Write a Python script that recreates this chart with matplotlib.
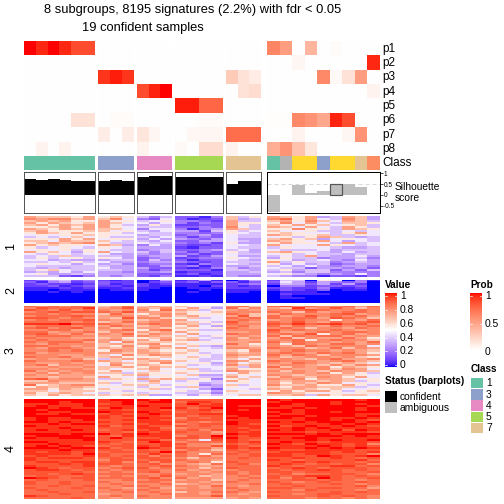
import numpy as np
import matplotlib
matplotlib.use("Agg")
import matplotlib.pyplot as plt
from matplotlib.colors import ListedColormap
from matplotlib.patches import Rectangle

plt.rcParams['font.family'] = ['Liberation Sans', 'DejaVu Sans']

title_1 = "8 subgroups, 8195 signatures (2.2%) with fdr < 0.05"
title_2 = "19 confident samples"
group_sizes = [6, 3, 3, 4, 3, 9]
group_x = [(24, 95), (98, 134), (137, 172), (175, 223), (226, 261), (267, 380)]

p_labels = ["p1", "p2", "p3", "p4", "p5", "p6", "p7", "p8"]
p1 = [1, .95, 1, .95, .85, .85] + [0]*13 + [.62, .5, 0, .38, 0, .02, 0, 0, 0]
p2 = [0]*19 + [0, 0, .05, 0, 0, 0, 0, 0, .95]
p3 = [0]*6 + [.92, .97, .92] + [0]*7 + [.27, .15, .1] + [0, 0, 0, 0, .6, .03, .15, .5, 0]
p4 = [0]*9 + [.85, .96, 1] + [0]*4 + [0, .15, .18] + [0, 0, 0, 0, 0, 0, 0, 0, .06]
p5 = [0]*12 + [.97, .97, .75, .75] + [0]*3 + [0]*9
p6 = [0, 0, 0, 0, .15, .15, 0, .02, .02] + [0]*3 + [0, 0, .02, .02] + [0]*3 + [.01, .01, .6, .55, .45, .96, .85, 0, 0]
p7 = [0]*6 + [.09, 0, .09, .13, .05, 0, 0, .04, .05, .05, .72, .72, .72] + [0, 0, .06, 0, 0, 0, .05, .55, 0]
p8 = [0, .06, 0, .06, 0, 0, 0, 0, 0, .06, 0, 0, .03, 0, .18, .18, .06, 0, 0] + [.42, .55, .32, .13, 0, 0, 0, 0, 0]

class_colors = ["#66C2A5"]*6 + ["#8DA0CB"]*3 + ["#E78AC3"]*3 + ["#A6D854"]*4 + ["#E5C494"]*3 + \
    ["#66C2A5", "#B3B3B3", "#FFD92F", "#FFD92F", "#8DA0CB", "#FFD92F", "#FFD92F", "#E5C494", "#FC8D62"]

silhouette = [.73, .68, .73, .68, .62, .62, .62, .68, .62, .82, .86, .86, .82, .82, .82, .82, .5, .62, .62,
              -.76, 0, .45, .08, .18, .52, .5, .36, 0]
sil_confident = [True]*19 + [False]*9

legend_class_labels = ["1", "3", "4", "5", "7"]
legend_class_colors = ["#66C2A5", "#8DA0CB", "#E78AC3", "#A6D854", "#E5C494"]
value_ticks = [0, .2, .4, .6, .8, 1]
prob_ticks = [0, .5, 1]

# heatmap rows, one hex digit per sample, blocks split by subgroup;
# digit_levels gives the estimated value each digit stands for
digit_levels = {"0": 0, "1": .04, "2": .09, "3": .15, "4": .22, "5": .30, "6": .37, "7": .45,
                "8": .56, "9": .66, "a": .74, "b": .80, "c": .86, "d": .91, "e": .96, "f": 1}
rows_c1 = [
 "a9998a 898 646 3314 968 a98a56a95",
 "babb9a 9b7 437 3123 956 bc8a76b95",
 "9a9a88 a88 678 4432 a66 9a8b97a96",
 "a8a989 a97 757 4243 a88 8b7a76998",
 "9a8a9a a86 586 2233 a86 98a897896",
 "889a8a a87 666 3343 b76 a97a76a86",
 "a98a9a 997 477 4145 a96 88b886a98",
 "9a8889 978 657 5526 867 977866767",
 "8a98a8 886 766 4434 876 8987768a7",
 "787889 877 566 3453 766 a98896687",
 "676797 866 657 4243 766 7868a9656",
 "888a8a 788 575 5435 755 9a8957876",
 "997a99 976 657 3355 765 a987a7576",
 "89a9ab 866 766 4342 855 8a8876a67",
 "a89887 a95 475 3223 776 a777a8767",
 "867876 876 555 2133 766 687776556",
 "787868 766 456 3345 675 766675666",
 "a89758 a76 646 4243 865 9a8765756",
 "768767 755 545 3423 766 786766566",
 "676966 665 455 5235 755 676a65575",
 "686786 875 345 2344 876 586645564",
 "775655 566 364 3133 765 875675475",
 "667686 755 455 4323 666 a68664565",
 "787757 564 344 2143 765 857563455",
 "766666 655 335 3413 556 675754554",
 "656566 755 533 2124 645 766355453",
 "689766 665 424 3331 665 685663536",
 "565757 554 445 1222 556 564664444",
 "785565 555 333 2312 555 786545474",
 "666324 545 324 1121 544 654413324",
]
rows_c2 = [
 "235634 212 015 1251 025 266087041",
 "314523 322 023 2313 313 375254340",
 "232212 312 212 1111 234 265352520",
 "223123 221 211 1102 212 044233230",
 "111212 112 110 0111 222 232241120",
 "110111 011 100 0010 111 132130110",
 "001010 000 000 0100 110 011100000",
 "000000 000 000 0000 000 021110000",
 "000000 000 000 0000 000 010000000",
 "000000 000 000 0000 000 011000000",
 "000000 000 000 0000 000 000000000",
 "000000 000 000 0000 000 000000000",
]
rows_c3 = [
 "cbcbcb 9ac 9a9 9776 bc9 cdbcbbcac",
 "bdccce abd a9b 8a85 c9b a9eabdb9b",
 "dcbdbc bab b8c a968 aba bbcdcbbcb",
 "bcdcdd cbd aaa 9879 bbb cb9cabccb",
 "ccbcbb 9ca 8ab a888 cb9 acbbbcdab",
 "bcccdc abb a9b 9a87 ad9 cabdbcbca",
 "ddcbcb a9d bb9 8967 cbc cbccadcb9",
 "bcbccd bab 9ab a777 bcb abcbb8bac",
 "ccccbc 9ac abb 9986 dba cbdbacbcd",
 "eeefdd cba bcb a968 cbb dcecdecdb",
 "bcccbc acb 9ab 8a75 bca cacbacbbc",
 "cdbcdb b9a aa9 9878 cba bcb9bbacb",
 "bbccab abc 8bc 8966 bbb dbcbbcbab",
 "ccabbc 9ba a9a a877 aab caabcbccb",
 "cdbaca bac 9ba 7a77 cbb bcbd8bcab",
 "bcccbb aab ba9 9768 aba c9cbccaba",
 "cbbbaa 9a8 89a 8976 b9b ac9baaca8",
 "bcbbbc ab9 a8b 9a67 baa bbc8bcbb9",
 "cbccca a7b 999 8787 aab cacbbabac",
 "bacbbb 9a9 ab8 9878 ca8 b8cbaccab",
 "ccbbab 98b 8aa 7965 aa9 ba9cbbbb7",
 "baccba a9a 9b9 a776 bba cbb9ac9ba",
 "bbcbcb 8ba a98 8977 98b abcbbaba9",
 "cabbbb aa9 aa9 9867 a9a bcbacbca8",
 "bbbaab 97b 9ba 8786 baa cacb9bbba",
 "cbbcaa 9a8 889 7976 a98 b9abbab98",
 "abaab9 69a a97 8866 97a aba9bcaab",
 "cbbbcb a97 9aa 9767 ba8 cbbbabca9",
 "baabab 8a9 98b 7885 a79 bacba9a97",
 "bc9bba 7b8 a98 8676 b9a abba9b9ba",
 "aabaab 99a 8a9 9777 96a c9bab8a98",
 "bbabba 978 9a7 7967 a88 abaab9ba7",
 "cababb 8a7 798 8866 ba9 b9ba9baa9",
 "ab9bab 996 987 9787 7a8 aabab8a86",
 "babaaa 789 a88 7955 987 ba9aaa987",
 "aa9aa9 a87 678 8766 a79 9ba9ba8a7",
 "cdabba 698 a9a 9684 897 bab8aa978",
 "99baaa 887 6a7 6876 a87 a9aa9a968",
 "aaa999 968 897 7856 787 a8a9ba787",
 "c89abb 879 976 8745 967 b99a88a86",
 "8a9aa9 787 688 6965 878 98aa99967",
 "aa8a98 978 896 7753 776 a9a989778",
 "997999 886 777 8675 987 8a8aa8689",
 "a89a97 678 687 6664 877 ba9878788",
 "98a899 989 955 7586 799 99a6a8997",
]
rows_c4 = [
 "ffffff eff fef dddd fff fefffffef",
 "fffeff eef eff ceed fff effffefff",
 "eefeef def eee dfde fff ffeffefef",
 "efeeef eee fee ddee fee feefffffe",
 "ffefee dfe eef ecdf fff eefefffef",
 "feffff eed eed dded fef ffeffffef",
 "ffeeff fee fee cddc fff efeffefff",
 "feefee ded efe ddee fff feeffffee",
 "ffffff ede eed dcdd eff effefffef",
 "efeeff edd fee bdcd fef ffeffeefe",
 "efeeef dde eed cddd eee eeeffefed",
 "ffefee edd eee dcbc fee fefefffef",
 "eefeff dde dee bcdd fed eeeeefefe",
 "feeeee ecd edd dcdc eee fdefeefed",
 "eeefee ddd eec bccc ede eefefeeee",
 "efeefe cde ded cdbd eed fefeefdfe",
 "eeeeee ddc ede dcca ede eeedeeeed",
 "fffeff fde fee cccb fee fffefefff",
 "effffe dce eee bdcf ede eeefffefe",
 "feefff dfd dde ddce fdd feffeeeee",
 "eeeeef ddd eec cb7d edc eeefefeef",
 "ffeeee edc dfe bccc ede efeedeeed",
 "eefeee dcd dde dbba dcd fedfeedeb",
 "efefed cdd ede cbbd edc eeeefeded",
 "fffeff ecd fed dcca ede feefefefe",
 "eeefee ddc dcd bcb9 dcd eddeeeedd",
 "edeede cdd ddf dbbb cdc deeeedede",
 "eeeedf dcc cec cb8c dcd eedeedddb",
 "deddde dcd dbd cbca ccd eeddfedef",
 "edeeed cdc ddc b9bb cdc ddeddedcd",
 "eddddd bdd cdd cbba ccc edcddddec",
 "deedee cdb dbd bcb8 dcc ddededdcd",
 "dddede ddc cdb ba9c cdb dedcdcddb",
 "edddde cbc ccd cbaa ccc edcddeecd",
 "fedcdd bcd dbc bb9b dcc cdedcdddc",
 "deedcd cbc ccb caba bcc dcddedcdc",
 "dddddc bcb cdb bbab cbc ddcdddccd",
 "ddcded ccc bbc abba cbc cdbccddcb",
 "cddccd bcb cbd bb9a bcb dcdeedcdc",
 "fedcdd ccc cdb caba bbc dbdcfdccd",
 "cdcccd bbc bcc abb9 bcb ccddcdcbc",
 "dccdcc cbb ccb bbab cbb dcbcdccdc",
 "dccdcc bcb bbc 9aba bbc cdcccdcbc",
 "ccdccd bbc cbb bbac bab ccdccccdb",
 "dcccdc cba bca abab cbb ddccddcca",
 "cdcccc bcb cbb bbbb bcb ccbdcccbc",
 "ccdccd bbc bcb 9bac cba dccccdcdc",
 "cccdcc abb bbc bbab bab ccbcddccc",
 "edcccc bcb cbb bbbd bbb dcccdcdcb",
 "ccccdc bab bbb aaaa aba cccbccbcb",
]
cluster_rows = [rows_c1, rows_c2, rows_c3, rows_c4]
cluster_y = [(216, 277), (280, 303), (306, 396), (399, 498.5)]
cluster_labels = ["1", "2", "3", "4"]

W, H = 504, 504
fig = plt.figure(figsize=(7, 7), dpi=72, facecolor="white")

def pax(x0, y0, x1, y1, **kw):
    ax = fig.add_axes([x0 / W, 1 - y1 / H, (x1 - x0) / W, (y1 - y0) / H], **kw)
    return ax

def ftext(x, y, s, **kw):
    kw.setdefault("va", "center")
    kw.setdefault("ha", "left")
    fig.text(x / W, 1 - y / H, s, **kw)

# colour ramps interpolated in CIELAB, as the reference's palette looks
M = np.array([[.4124564, .3575761, .1804375], [.2126729, .7151522, .0721750], [.0193339, .1191920, .9503041]])
WHT = M.sum(axis=1)

def rgb2lab(rgb):
    rgb = np.asarray(rgb, float)
    lin = np.where(rgb > .04045, ((rgb + .055) / 1.055) ** 2.4, rgb / 12.92)
    t = M @ lin / WHT
    f = np.where(t > .008856, np.cbrt(t), 7.787 * t + 16 / 116)
    return np.array([116 * f[1] - 16, 500 * (f[0] - f[1]), 200 * (f[1] - f[2])])

def lab2rgb(lab):
    fy = (lab[0] + 16) / 116
    f = np.array([fy + lab[1] / 500, fy, fy - lab[2] / 200])
    t = np.where(f ** 3 > .008856, f ** 3, (f - 16 / 116) / 7.787)
    lin = np.clip(np.linalg.solve(M, t * WHT), 0, 1)
    rgb = np.where(lin > .0031308, 1.055 * lin ** (1 / 2.4) - .055, 12.92 * lin)
    return np.clip(rgb, 0, 1)

def lab_ramp(name, c0, c1, c2=None):
    anchors = [c0, c1] if c2 is None else [c0, c1, c2]
    labs = [rgb2lab(matplotlib.colors.to_rgb(c)) for c in anchors]
    out = []
    for u in np.linspace(0, 1, 256):
        s = u * (len(labs) - 1)
        i = min(int(s), len(labs) - 2)
        out.append(lab2rgb(labs[i] + (labs[i + 1] - labs[i]) * (s - i)))
    return ListedColormap(out, name=name)

value_cmap = lab_ramp("val", "#0000ff", "#ffffff", "#ff0000")
prob_cmap = lab_ramp("prob", "#ffffff", "#ff0000")

def bare(ax):
    ax.set_xticks([]); ax.set_yticks([])
    for s in ax.spines.values():
        s.set_visible(False)

ftext(193, 10, title_1, ha="center", fontsize=12.9)
ftext(143, 28.5, title_2, ha="center", fontsize=12.9)

probs = np.array([p1, p2, p3, p4, p5, p6, p7, p8])
starts = np.cumsum([0] + group_sizes)

for g, (x0, x1) in enumerate(group_x):
    a, b = starts[g], starts[g + 1]
    ax = pax(x0, 41, x1, 155.7)
    ax.imshow(probs[:, a:b], cmap=prob_cmap, vmin=0, vmax=1, aspect="auto", interpolation="nearest")
    bare(ax)
    ax = pax(x0, 156, x1, 170.5)
    cols = class_colors[a:b]
    ax.imshow(np.arange(b - a)[None, :], cmap=ListedColormap(cols), aspect="auto", interpolation="nearest")
    bare(ax)
    ax = pax(x0, 171.5, x1, 213)
    vals = silhouette[a:b]
    conf = sil_confident[a:b]
    ax.bar(np.arange(b - a), vals, width=1, color=["black" if c else "#BEBEBE" for c in conf])
    ax.set_xlim(-.5, b - a - .5)
    ax.set_ylim(-.82, 1.07)
    ax.set_xticks([]); ax.set_yticks([])
    for s in ax.spines.values():
        s.set_linewidth(1)
        s.set_color("#555555" if g < 5 else "black")
    if g == 5:
        ax.axhline(.5, color="#D8D8D8", lw=1, ls=(0, (4, 3)), zorder=0.5)
        ax.add_patch(Rectangle((4.5, 0), 1, .52, fill=False, ec="#555555", lw=1.2))
        ax.set_yticks([-.5, 0, .5, 1])
        ax.set_yticklabels(["-0.5", "0", "0.5", "1"], fontsize=6.5)
        ax.yaxis.tick_right()
        ax.tick_params(axis="y", length=3, width=.7, pad=1)
    for rows, (y0, y1) in zip(cluster_rows, cluster_y):
        blocks = [r.split()[g] for r in rows]
        m = np.array([[digit_levels[c] for c in bl] for bl in blocks])
        ax = pax(x0, y0, x1, y1)
        ax.imshow(m, cmap=value_cmap, vmin=0, vmax=1, aspect="auto", interpolation="nearest")
        bare(ax)

for i, lab in enumerate(p_labels):
    ftext(382.5, 41 + 14.33 * (i + .5) + .5, lab, fontsize=11.8)
ftext(382.5, 163, "Class", fontsize=11.8)
ftext(394.5, 187, "Silhouette", fontsize=10.3)
ftext(394.5, 198, "score", fontsize=10.3)

for lab, y in zip(cluster_labels, [246, 291, 351, 448]):
    ftext(11, y, lab, rotation=90, ha="center", fontsize=12.5)

ax = pax(385, 293, 397, 367)
ax.imshow(np.linspace(1, 0, 256)[:, None], cmap=value_cmap, aspect="auto", extent=[0, 1, 0, 1], vmin=0, vmax=1)
bare(ax)
ftext(385, 285, "Value", fontweight="bold", fontsize=10)
for v, y in zip(value_ticks, [365, 351, 338, 324, 310, 296]):
    yy = (367 - y) / 74
    ax.plot([0, .2], [yy, yy], color="white", lw=.7)
    ax.plot([.8, 1], [yy, yy], color="white", lw=.7)
    ftext(400, y, f"{v:g}", fontsize=10.3)
ax.set_xlim(0, 1); ax.set_ylim(0, 1)

ax = pax(470, 293, 482, 350)
ax.imshow(np.linspace(1, 0, 256)[:, None], cmap=prob_cmap, aspect="auto", extent=[0, 1, 0, 1], vmin=0, vmax=1)
bare(ax)
ftext(470, 285, "Prob", fontweight="bold", fontsize=10)
for v, y in zip(prob_ticks, [352, 324, 296]):
    ftext(485, y, f"{v:g}", fontsize=10.3)
    yy = (350 - y) / 57
    if 0 < yy < 1:
        ax.plot([0, .2], [yy, yy], color="white", lw=.7)
        ax.plot([.8, 1], [yy, yy], color="white", lw=.7)
ax.set_xlim(0, 1); ax.set_ylim(0, 1)

ftext(471, 369, "Class", fontweight="bold", fontsize=10)
leg = pax(0, 0, W, H)
leg.set_xlim(0, W); leg.set_ylim(H, 0); leg.axis("off"); leg.patch.set_alpha(0)
for i, (lab, c) in enumerate(zip(legend_class_labels, legend_class_colors)):
    y = 378 + 11.2 * i
    leg.add_patch(Rectangle((471, y), 12, 10.4, color=c, lw=0))
    ftext(486, y + 5.5, lab, fontsize=10.3)

ftext(385, 381, "Status (barplots)", fontweight="bold", fontsize=10)
leg.add_patch(Rectangle((385, 391), 12, 11, color="black", lw=0))
leg.add_patch(Rectangle((385, 402), 12, 11, color="#BEBEBE", lw=0))
ftext(400, 397, "confident", fontsize=10.3)
ftext(400, 408, "ambiguous", fontsize=10.3)

fig.savefig("out.png", dpi=72)
